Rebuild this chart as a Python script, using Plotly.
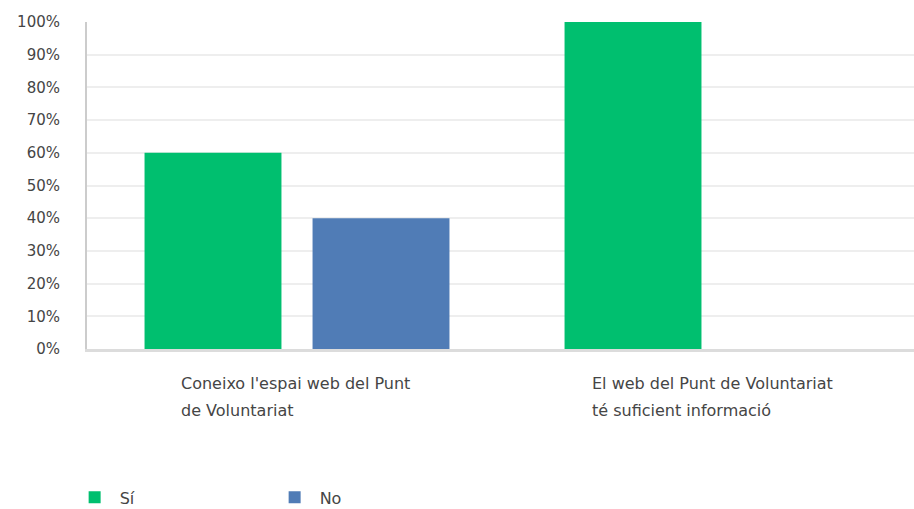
import plotly.graph_objects as go

cat_keys = ["q1", "q2"]
label_lines = [["Coneixo l'espai web del Punt", "de Voluntariat"],
               ["El web del Punt de Voluntariat", "té suficient informació"]]
label_shift = [-118, -127]
si_values = [60, 100]
no_values = [40, 0]
y_ticks = [0, 10, 20, 30, 40, 50, 60, 70, 80, 90, 100]
y_tick_labels = [f"{v}%" for v in y_ticks]

GREEN = "#00bf6f"
BLUE = "#507cb6"
TEXT = "#454545"
FONT = "DejaVu Sans"

fig = go.Figure()
fig.add_trace(go.Bar(name="Sí", x=cat_keys, y=si_values, marker=dict(color=GREEN, line_width=0)))
fig.add_trace(go.Bar(name="No", x=cat_keys, y=no_values, marker=dict(color=BLUE, line_width=0)))

# category labels: left-aligned two-line blocks under each group
for key, lines, shift in zip(cat_keys, label_lines, label_shift):
    for i, line in enumerate(lines):
        fig.add_annotation(x=key, y=0, xref="x", yref="y", text=line, showarrow=False,
                           xanchor="left", yanchor="middle", xshift=shift, yshift=-34 - 27 * i,
                           font=dict(family=FONT, size=16, color=TEXT))

fig.update_layout(
    width=914, height=509,
    margin=dict(l=87, r=0, t=22, b=160, autoexpand=False),
    paper_bgcolor="white", plot_bgcolor="white",
    barmode="group", bargap=0.2, bargroupgap=0.185,
    font=dict(family=FONT, color=TEXT),
    showlegend=True,
    legend=dict(orientation="h", x=-0.021, xanchor="left", y=-0.402, yanchor="top",
                font=dict(family=FONT, size=16, color=TEXT), itemwidth=40,
                entrywidth=145, traceorder="normal"),
    xaxis=dict(range=[-0.5, 1.469], showticklabels=False, showgrid=False,
               showline=True, linecolor="#dcdcdc", linewidth=3, zeroline=False,
               fixedrange=True),
    yaxis=dict(range=[0, 100], tickvals=y_ticks, ticktext=y_tick_labels,
               showgrid=True, gridcolor="#eeeeee", gridwidth=2,
               showline=True, linecolor="#cccccc", linewidth=2, zeroline=False,
               ticks="outside", ticklen=22, tickcolor="white",
               tickfont=dict(family=FONT, size=15, color=TEXT)),
)

fig.write_html("out.html")
